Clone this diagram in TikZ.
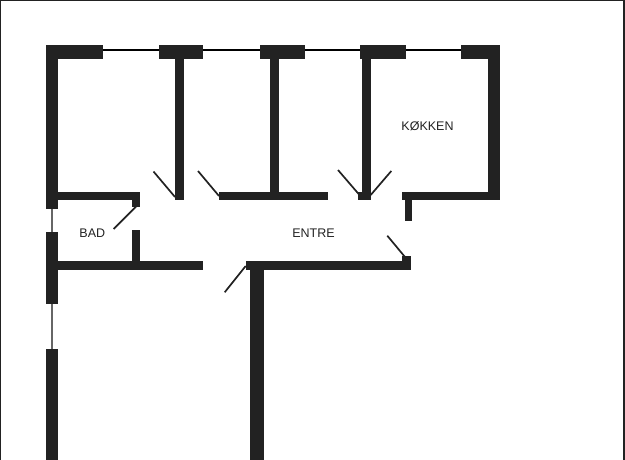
\documentclass[tikz,border=0pt]{standalone}
\usepackage{fontspec}
\setmainfont{Liberation Sans}
\definecolor{wallcol}{HTML}{222222}
\tikzset{
  wall/.style={fill=wallcol, draw=none},
  door/.style={draw=wallcol, line width=1.7pt},
  glassH/.style={draw=black, line width=1.7pt},
  glassV/.style={draw=gray!80!black, line width=2pt},
  room/.style={text=wallcol, inner sep=0pt, font=\fontsize{12.5}{15}\selectfont},
}

\begin{document}
\begin{tikzpicture}[x=1pt,y=-1pt]
\useasboundingbox (0,0) rectangle (625,460);

% outer frame
\draw[wallcol, line width=1.4pt] (0.5,460) -- (0.5,0.6) -- (624,0.6) -- (624,460);

% windows
\draw[glassH] (102,50.3) -- (461,50.3);
\draw[glassV] (52,209) -- (52,232);
\draw[glassV] (52,304) -- (52,350);

% walls, as x0/y0/x1/y1
\foreach \xa/\ya/\xb/\yb in {
  45.7/45/102.5/59.3, 45.7/45/58.3/209, 58/192/139.7/200.5, 131.7/192/140/207,
  159/45/203/59.3, 174.7/59/184/200.5,
  260/45/304.5/59.3, 270/59/278.7/193, 218.7/192/328.3/200.5,
  360.3/45/405.7/59.3, 361.7/59/370.7/193, 358.3/192/371.3/200.5,
  461.3/45/500.3/59.3, 487.7/45/500.3/200.5, 402/192/500.3/200.5, 405/200/412/221,
  45.7/231.7/58.3/304, 45.7/349.3/58.3/460,
  58/261.3/203/270, 131.7/229.7/140.3/262,
  245.7/261.3/411/270, 402.3/256/411/270, 250.3/270/263.7/460}
  \fill[wall] (\xa,\ya) rectangle (\xb,\yb);

% doors
\foreach \xa/\ya/\xb/\yb in {
  153.5/171.5/175/197, 198/171/219/196, 338/170/359.5/195, 391.3/171/370.7/195,
  113.7/229/136/206.7, 224.7/292.3/245.7/266, 387.3/235.7/405/257}
  \draw[door] (\xa,\ya) -- (\xb,\yb);

\node[room] (bad) at (92.3,233) {BAD};
\node[room] (entre) at (313.5,232.7) {ENTRE};
\node[room] (kokken) at (427.5,126.2) {KØKKEN};

\end{tikzpicture}
\end{document}
